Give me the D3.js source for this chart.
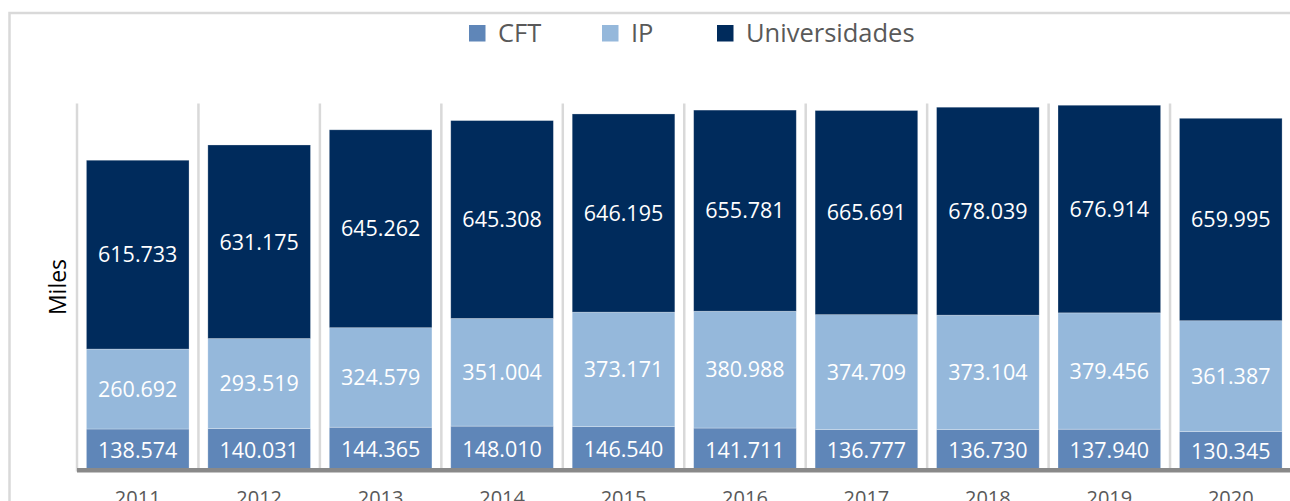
<!DOCTYPE html>
<html><head><meta charset="utf-8">
<script src="https://cdn.jsdelivr.net/npm/d3@7"></script>
<style>html,body{margin:0;padding:0;background:#fff;}svg{display:block;}</style>
</head><body>
<svg id="chart" width="1290" height="501"></svg>
<script>
const years = ["2011","2012","2013","2014","2015","2016","2017","2018","2019","2020"];
const seriesNames = ["CFT","IP","Universidades"];
const cft = [138574,140031,144365,148010,146540,141711,136777,136730,137940,130345];
const ip = [260692,293519,324579,351004,373171,380988,374709,373104,379456,361387];
const univ = [615733,631175,645262,645308,646195,655781,665691,678039,676914,659995];
const colors = ["#5f86b8","#95b8db","#002b5c"];
const yTitle = "Miles";

const svg = d3.select("#chart");
const W = 1290, H = 501;
const fontFam = "'Open Sans', 'DejaVu Sans', sans-serif";

// outer chart border
svg.append("rect").attr("x",9.5).attr("y",13).attr("width",1400).attr("height",600)
  .attr("fill","none").attr("stroke","#d9d9d9").attr("stroke-width",2.5);

const rows = years.map((y,i)=>({year:y, CFT:cft[i], IP:ip[i], Universidades:univ[i]}));
const stack = d3.stack().keys(seriesNames)(rows);

const x = d3.scaleBand().domain(years).range([77, 77 + 10*121.45]).paddingInner(0.155).paddingOuter(0.0775);
const y = d3.scaleLinear().domain([0,1200000]).range([471.5, 103.5]);

// category separators
svg.append("g").selectAll("line").data(years).join("line")
  .attr("x1", d=>x(d) - x.step()*0.0775).attr("x2", d=>x(d) - x.step()*0.0775)
  .attr("y1", y(1200000)).attr("y2", y(0))
  .attr("stroke","#d9d9d9").attr("stroke-width",2.5);

const loc = d3.formatLocale({decimal:",", thousands:".", grouping:[3], currency:["$",""]});
const fmt = loc.format(",d");

const groups = svg.append("g").selectAll("g").data(stack).join("g")
  .attr("fill",(d,i)=>colors[i]);
groups.selectAll("rect").data(d=>d).join("rect")
  .attr("x", d=>x(d.data.year)).attr("width", x.bandwidth())
  .attr("y", d=>y(d[1])).attr("height", d=>y(d[0])-y(d[1]))
  .attr("stroke","#ffffff").attr("stroke-opacity",0.35).attr("stroke-width",0.75);

// data labels
const lbl = svg.append("g");
stack.forEach(s=>{
  s.forEach(d=>{
    lbl.append("text")
      .attr("x", x(d.data.year)+x.bandwidth()/2)
      .attr("y", (y(d[0])+y(d[1]))/2)
      .attr("dy","0.36em")
      .attr("text-anchor","middle")
      .attr("fill","#ffffff")
      .style("font-family",fontFam).style("font-size","21.5px")
      .text(fmt(d[1]-d[0]));
  });
});

// x axis line
svg.append("line").attr("x1",77).attr("x2",W).attr("y1",470.3).attr("y2",470.3)
  .attr("stroke","#898989").attr("stroke-width",4.5);

// x labels
const xAxis = d3.axisBottom(x).tickSize(0).tickPadding(0);
const gx = svg.append("g").attr("transform","translate(0,505)").call(xAxis);
gx.select(".domain").remove();
gx.selectAll("text").attr("dy",0).attr("fill","#595959")
  .style("font-family",fontFam).style("font-size","20px");

// y title
svg.append("text").attr("transform","translate(65.5,287) rotate(-90)")
  .attr("text-anchor","middle").attr("fill","#000")
  .style("font-family",fontFam).style("font-size","23px").text(yTitle);

// legend
const legX = [469, 602, 717];
const leg = svg.append("g");
seriesNames.forEach((n,i)=>{
  leg.append("rect").attr("x",legX[i]).attr("y",25).attr("width",16.5).attr("height",16.5).attr("fill",colors[i]);
  leg.append("text").attr("x",legX[i]+29).attr("y",42).attr("fill","#595959")
    .style("font-family",fontFam).style("font-size","25.5px").text(n);
});
</script>
</body></html>
